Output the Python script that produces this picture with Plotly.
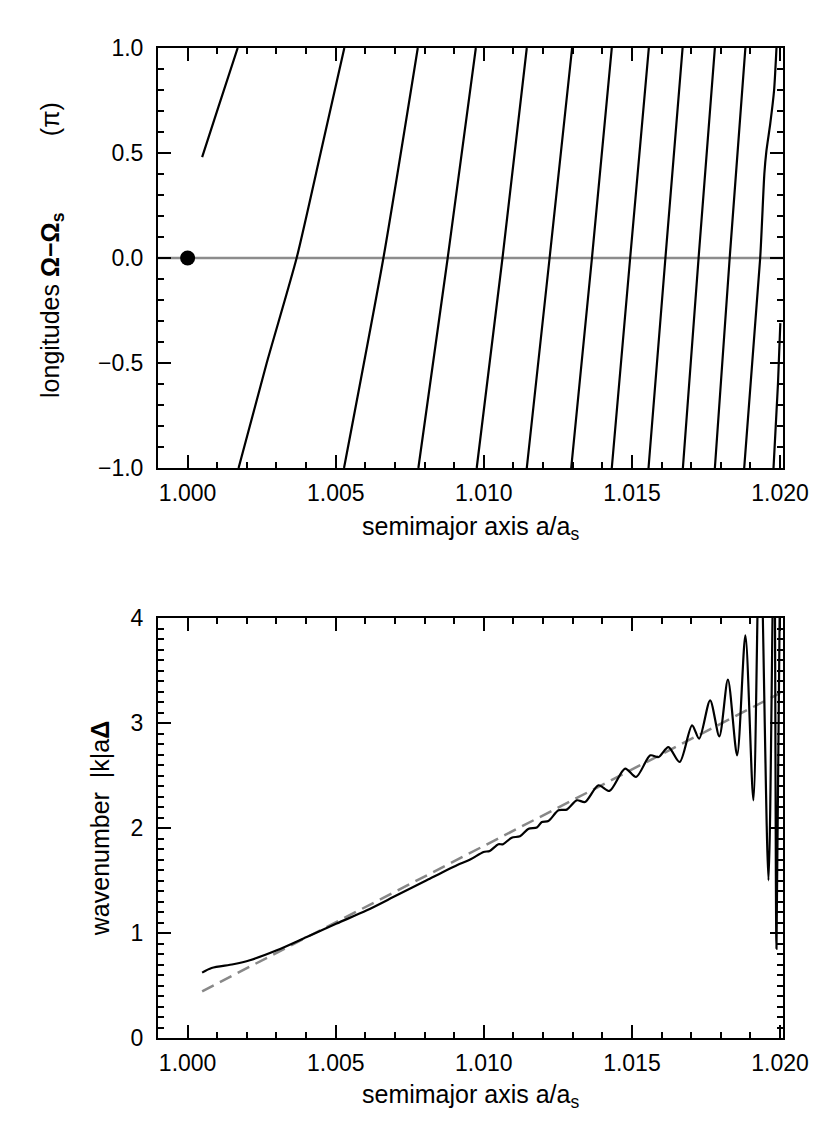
import plotly.graph_objects as go

# ---------------- data ----------------
# Top panel: wrapped longitude lines, Omega - Omega_s (units of pi) vs a/a_s
phase_a = [
    [1.00049, 1.00104, 1.00169],
    [1.00172, 1.00267, 1.00368, 1.00449, 1.00529],
    [1.00528, 1.00661, 1.00777],
    [1.00779, 1.00878, 1.00973],
    [1.00976, 1.01063, 1.01145],
    [1.01145, 1.01222, 1.01298],
    [1.01295, 1.01365, 1.01432],
    [1.01432, 1.01494, 1.01557],
    [1.01556, 1.01613, 1.01671],
    [1.01672, 1.01725, 1.01780],
    [1.01780, 1.01830, 1.01883],
    [1.01879, 1.01933, 1.01947, 1.01954, 1.01967, 1.01980, 1.01988],
    [1.01978, 1.01993, 1.02001],
]
phase_y = [
    [0.48, 0.72, 1.0],
    [-1.0, -0.5, 0.0, 0.5, 1.0],
    [-1.0, 0.0, 1.0],
    [-1.0, 0.0, 1.0],
    [-1.0, 0.0, 1.0],
    [-1.0, 0.0, 1.0],
    [-1.0, 0.0, 1.0],
    [-1.0, 0.0, 1.0],
    [-1.0, 0.0, 1.0],
    [-1.0, 0.0, 1.0],
    [-1.0, 0.0, 1.0],
    [-1.0, 0.0, 0.40, 0.51, 0.64, 0.80, 1.0],
    [-1.0, -0.6, -0.31],
]
satellite_a = [1.000]
satellite_lon = [0.0]

# Bottom panel: wavenumber |k|aΔ vs a/a_s
wave_a = [1.00049, 1.00081, 1.00154, 1.00210, 1.00301, 1.00402, 1.00503, 1.00605,
          1.00706, 1.00807, 1.00909, 1.00954, 1.00999, 1.01020, 1.01049, 1.01065,
          1.01094, 1.01122, 1.01151, 1.01179, 1.01196, 1.01218, 1.01252, 1.01280,
          1.01314, 1.01342, 1.01387, 1.01424, 1.01477, 1.01514, 1.01562, 1.01590,
          1.01623, 1.01661, 1.01703, 1.01727, 1.01764, 1.01795, 1.01824, 1.01855,
          1.01883, 1.01910, 1.01932, 1.01961, 1.01980, 1.01988, 1.02002]
wave_k = [0.623, 0.667, 0.702, 0.740, 0.835, 0.962, 1.090, 1.216,
          1.359, 1.502, 1.645, 1.699, 1.771, 1.782, 1.845, 1.846,
          1.908, 1.921, 1.994, 2.004, 2.057, 2.067, 2.169, 2.175,
          2.264, 2.248, 2.407, 2.353, 2.566, 2.486, 2.692, 2.676,
          2.771, 2.629, 2.978, 2.851, 3.216, 2.873, 3.413, 2.692,
          3.835, 2.264, 5.0, 1.502, 5.0, 0.85, 5.0]
fit_a = [1.00049, 1.02001]
fit_k = [0.445, 3.286]

x_tick_vals = [1.000, 1.005, 1.010, 1.015, 1.020]
x_tick_text = ["1.000", "1.005", "1.010", "1.015", "1.020"]
y1_tick_vals = [-1.0, -0.5, 0.0, 0.5, 1.0]
y1_tick_text = ["\u22121.0", "\u22120.5", "0.0", "0.5", "1.0"]
y2_tick_vals = [0, 1, 2, 3, 4]
y2_tick_text = ["0", "1", "2", "3", "4"]

x_title = "semimajor axis a/a<sub>s</sub>"
y1_title = ("longitudes <b>\u03a9\u2212\u03a9<sub>s</sub></b>"
            + "\u00a0" * 11 + "(\u03c0)")
y2_title = "wavenumber\u00a0\u00a0|k|a<b>\u0394</b>"

# ---------------- figure ----------------
FONT = "Liberation Sans, Arial, sans-serif"
TICK_SIZE = 23
TITLE_SIZE = 25
fig = go.Figure()

for xs, ys in zip(phase_a, phase_y):
    fig.add_trace(go.Scatter(x=xs, y=ys, mode="lines", xaxis="x", yaxis="y",
                             line=dict(color="black", width=2.2, shape="spline", smoothing=0.6),
                             showlegend=False, hoverinfo="skip"))

fig.add_trace(go.Scatter(x=satellite_a, y=satellite_lon, mode="markers", xaxis="x", yaxis="y",
                         marker=dict(color="black", size=15), showlegend=False, cliponaxis=False))

fig.add_trace(go.Scatter(x=fit_a, y=fit_k, mode="lines", xaxis="x2", yaxis="y2",
                         line=dict(color="#888888", width=2.5, dash="13px,7px"),
                         showlegend=False))
fig.add_trace(go.Scatter(x=wave_a, y=wave_k, mode="lines", xaxis="x2", yaxis="y2",
                         line=dict(color="black", width=2.2, shape="spline", smoothing=0.8),
                         showlegend=False))

fig.add_shape(type="line", xref="x domain", x0=0, x1=1, yref="y", y0=0, y1=0,
              line=dict(color="#8c8c8c", width=2.5), layer="below")

common = dict(showline=True, linecolor="black", linewidth=2, mirror="ticks",
              ticks="inside", ticklen=13, tickwidth=1.5, tickcolor="black",
              showgrid=False, zeroline=False,
              tickfont=dict(family=FONT, size=TICK_SIZE, color="black"))

def xax(domain_anchor):
    d = dict(common)
    d.update(range=[0.999, 1.0201], tickvals=x_tick_vals, ticktext=x_tick_text,
             minor=dict(ticks="inside", ticklen=6, tickwidth=1.5, tickcolor="black",
                        dtick=0.001, tick0=1.0, showgrid=False),
             ticklabelstandoff=3, anchor=domain_anchor)
    return d

xa1 = xax("y")
xa2 = xax("y2")

ya1 = dict(common)
ya1.update(range=[-1, 1], tickvals=y1_tick_vals, ticktext=y1_tick_text, domain=[0.57576, 1.0],
           anchor="x",
           minor=dict(ticks="inside", ticklen=6, tickwidth=1.5, tickcolor="black",
                      dtick=0.1, tick0=0, showgrid=False),
           ticklabelstandoff=8)

ya2 = dict(common)
ya2.update(range=[0, 4], tickvals=y2_tick_vals, ticktext=y2_tick_text, domain=[0.0, 0.42424],
           anchor="x2",
           minor=dict(ticks="inside", ticklen=6, tickwidth=1.5, tickcolor="black",
                      dtick=0.1, tick0=0, showgrid=False),
           ticklabelstandoff=8,
           title=dict(text=y2_title,
                      font=dict(family=FONT, size=TITLE_SIZE, color="black"), standoff=14))

title_font = dict(family=FONT, size=TITLE_SIZE, color="black")
annotations = [
    dict(text=x_title, xref="x domain", yref="paper", x=0.5, y=0.5152,
         xanchor="center", yanchor="middle", showarrow=False, font=title_font),
    dict(text=x_title, xref="x2 domain", yref="paper", x=0.5, y=-0.0586,
         xanchor="center", yanchor="middle", showarrow=False, font=title_font),
    dict(text=y1_title, xref="paper", yref="paper", x=-0.1696, y=0.796,
         xanchor="center", yanchor="middle", textangle=-90, showarrow=False, font=title_font),
]

fig.update_layout(
    width=822, height=1130,
    margin=dict(l=150, r=47, t=40, b=100),
    paper_bgcolor="white", plot_bgcolor="white",
    xaxis=xa1, yaxis=ya1, xaxis2=xa2, yaxis2=ya2,
    annotations=annotations,
    font=dict(family=FONT, color="black"),
    showlegend=False,
)

fig.write_html("out.html")
